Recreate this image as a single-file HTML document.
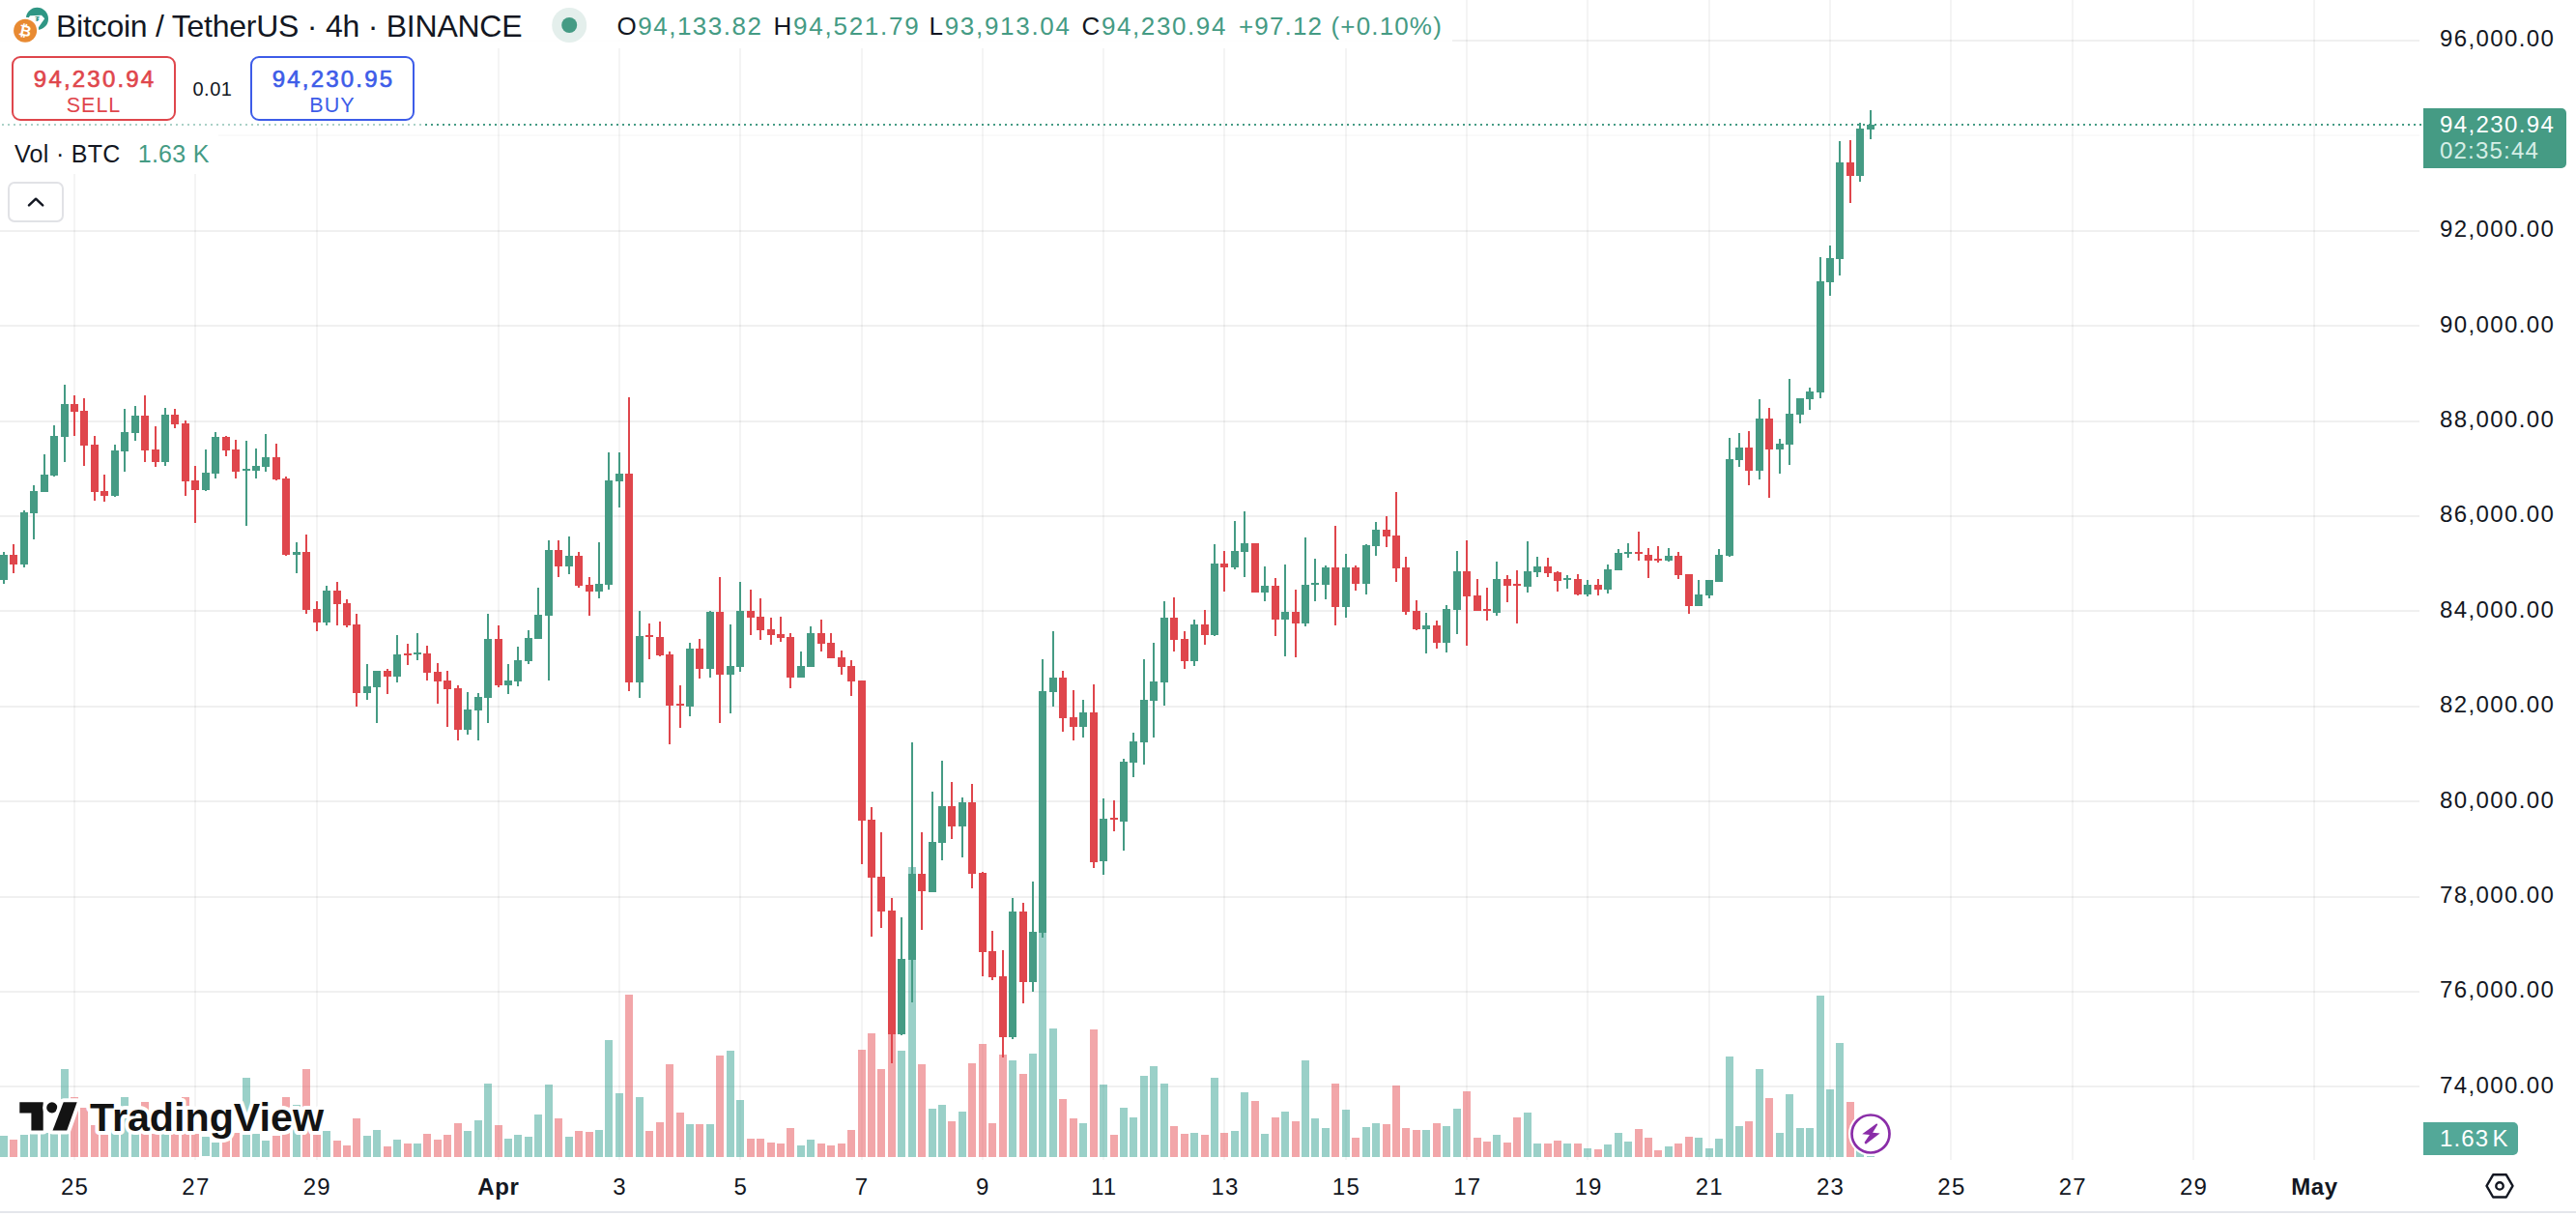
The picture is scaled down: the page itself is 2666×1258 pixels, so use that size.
<!DOCTYPE html>
<html><head><meta charset="utf-8"><title>BTCUSDT chart</title>
<style>
html,body{margin:0;padding:0;background:#fff;}
body{width:2666px;height:1258px;position:relative;overflow:hidden;font-family:"Liberation Sans", Arial, sans-serif;color:#131722;}
svg.chart,svg.ov{position:absolute;left:0;top:0;}
.bg{position:absolute;background:#fff;}
.t{position:absolute;white-space:nowrap;line-height:1;}
.pl{position:absolute;left:2525px;font-size:24px;line-height:28px;height:28px;letter-spacing:1.4px;white-space:nowrap;}
.tl{position:absolute;top:1213.7px;width:120px;text-align:center;font-size:24px;line-height:28px;white-space:nowrap;letter-spacing:1.2px;text-indent:1.2px;}
.tl.b{font-weight:700;letter-spacing:0.6px;text-indent:0.6px;}
.g{color:#459B84;}
.btn{position:absolute;top:58.3px;height:63px;width:165.3px;border:2px solid;border-radius:9px;box-sizing:content-box;text-align:center;}
.btn .p{position:absolute;left:0;right:0;top:9.5px;font-size:24px;font-weight:400;-webkit-text-stroke:0.65px;line-height:24px;letter-spacing:2.2px;text-indent:2.2px;}
.btn .s{position:absolute;left:0;right:0;top:37.8px;font-size:21.5px;line-height:22px;letter-spacing:1px;}
</style></head><body>
<svg class="chart" width="2666" height="1258" viewBox="0 0 2666 1258" shape-rendering="crispEdges"><rect x="0" y="40.8" width="2504" height="2" fill="rgba(0,0,0,0.06)"/><rect x="0" y="139.2" width="2504" height="2" fill="rgba(0,0,0,0.02)"/><rect x="0" y="237.6" width="2504" height="2" fill="rgba(0,0,0,0.06)"/><rect x="0" y="336.1" width="2504" height="2" fill="rgba(0,0,0,0.06)"/><rect x="0" y="434.5" width="2504" height="2" fill="rgba(0,0,0,0.06)"/><rect x="0" y="532.9" width="2504" height="2" fill="rgba(0,0,0,0.06)"/><rect x="0" y="631.3" width="2504" height="2" fill="rgba(0,0,0,0.06)"/><rect x="0" y="729.7" width="2504" height="2" fill="rgba(0,0,0,0.06)"/><rect x="0" y="828.2" width="2504" height="2" fill="rgba(0,0,0,0.06)"/><rect x="0" y="926.6" width="2504" height="2" fill="rgba(0,0,0,0.06)"/><rect x="0" y="1025" width="2504" height="2" fill="rgba(0,0,0,0.06)"/><rect x="0" y="1123.4" width="2504" height="2" fill="rgba(0,0,0,0.06)"/><rect x="76" y="0" width="2" height="1200" fill="rgba(0,0,0,0.045)"/><rect x="201" y="0" width="2" height="1200" fill="rgba(0,0,0,0.045)"/><rect x="327" y="0" width="2" height="1200" fill="rgba(0,0,0,0.045)"/><rect x="515" y="0" width="2" height="1200" fill="rgba(0,0,0,0.045)"/><rect x="640" y="0" width="2" height="1200" fill="rgba(0,0,0,0.045)"/><rect x="765" y="0" width="2" height="1200" fill="rgba(0,0,0,0.045)"/><rect x="891" y="0" width="2" height="1200" fill="rgba(0,0,0,0.045)"/><rect x="1016" y="0" width="2" height="1200" fill="rgba(0,0,0,0.045)"/><rect x="1141" y="0" width="2" height="1200" fill="rgba(0,0,0,0.045)"/><rect x="1266" y="0" width="2" height="1200" fill="rgba(0,0,0,0.045)"/><rect x="1392" y="0" width="2" height="1200" fill="rgba(0,0,0,0.045)"/><rect x="1517" y="0" width="2" height="1200" fill="rgba(0,0,0,0.045)"/><rect x="1642" y="0" width="2" height="1200" fill="rgba(0,0,0,0.045)"/><rect x="1768" y="0" width="2" height="1200" fill="rgba(0,0,0,0.045)"/><rect x="1893" y="0" width="2" height="1200" fill="rgba(0,0,0,0.045)"/><rect x="2018" y="0" width="2" height="1200" fill="rgba(0,0,0,0.045)"/><rect x="2144" y="0" width="2" height="1200" fill="rgba(0,0,0,0.045)"/><rect x="2269" y="0" width="2" height="1200" fill="rgba(0,0,0,0.045)"/><rect x="2394" y="0" width="2" height="1200" fill="rgba(0,0,0,0.045)"/><rect x="0" y="1175.1" width="8" height="21.4" fill="rgba(53,161,145,0.5)"/><rect x="10" y="1179" width="8" height="17.5" fill="rgba(229,77,83,0.5)"/><rect x="21" y="1174.1" width="8" height="22.4" fill="rgba(53,161,145,0.5)"/><rect x="31" y="1173" width="8" height="23.5" fill="rgba(53,161,145,0.5)"/><rect x="42" y="1172.1" width="8" height="24.4" fill="rgba(53,161,145,0.5)"/><rect x="52" y="1168" width="8" height="28.5" fill="rgba(53,161,145,0.5)"/><rect x="63" y="1106" width="8" height="90.5" fill="rgba(53,161,145,0.5)"/><rect x="73" y="1135.1" width="8" height="61.4" fill="rgba(229,77,83,0.5)"/><rect x="83" y="1145.8" width="8" height="50.7" fill="rgba(229,77,83,0.5)"/><rect x="94" y="1164.1" width="8" height="32.4" fill="rgba(229,77,83,0.5)"/><rect x="104" y="1174.1" width="8" height="22.4" fill="rgba(229,77,83,0.5)"/><rect x="115" y="1168" width="8" height="28.5" fill="rgba(53,161,145,0.5)"/><rect x="125" y="1135.1" width="8" height="61.4" fill="rgba(53,161,145,0.5)"/><rect x="136" y="1173" width="8" height="23.5" fill="rgba(53,161,145,0.5)"/><rect x="146" y="1140.1" width="8" height="56.4" fill="rgba(229,77,83,0.5)"/><rect x="157" y="1173" width="8" height="23.5" fill="rgba(229,77,83,0.5)"/><rect x="167" y="1173" width="8" height="23.5" fill="rgba(53,161,145,0.5)"/><rect x="177" y="1172.1" width="8" height="24.4" fill="rgba(229,77,83,0.5)"/><rect x="188" y="1135.1" width="8" height="61.4" fill="rgba(229,77,83,0.5)"/><rect x="198" y="1173" width="8" height="23.5" fill="rgba(229,77,83,0.5)"/><rect x="209" y="1176.2" width="8" height="20.2" fill="rgba(53,161,145,0.5)"/><rect x="219" y="1182" width="8" height="14.5" fill="rgba(53,161,145,0.5)"/><rect x="230" y="1180.4" width="8" height="16.1" fill="rgba(229,77,83,0.5)"/><rect x="240" y="1172.1" width="8" height="24.4" fill="rgba(229,77,83,0.5)"/><rect x="251" y="1115.4" width="8" height="81.1" fill="rgba(53,161,145,0.5)"/><rect x="261" y="1173" width="8" height="23.5" fill="rgba(53,161,145,0.5)"/><rect x="271" y="1180" width="8" height="16.5" fill="rgba(53,161,145,0.5)"/><rect x="282" y="1175.1" width="8" height="21.4" fill="rgba(229,77,83,0.5)"/><rect x="292" y="1135.1" width="8" height="61.4" fill="rgba(229,77,83,0.5)"/><rect x="303" y="1142.5" width="8" height="54" fill="rgba(53,161,145,0.5)"/><rect x="313" y="1106" width="8" height="90.5" fill="rgba(229,77,83,0.5)"/><rect x="324" y="1174.1" width="8" height="22.4" fill="rgba(229,77,83,0.5)"/><rect x="334" y="1170" width="8" height="26.5" fill="rgba(53,161,145,0.5)"/><rect x="345" y="1180" width="8" height="16.5" fill="rgba(229,77,83,0.5)"/><rect x="355" y="1184.5" width="8" height="12" fill="rgba(229,77,83,0.5)"/><rect x="365" y="1157" width="8" height="39.5" fill="rgba(229,77,83,0.5)"/><rect x="376" y="1175.1" width="8" height="21.4" fill="rgba(53,161,145,0.5)"/><rect x="386" y="1169" width="8" height="27.5" fill="rgba(53,161,145,0.5)"/><rect x="397" y="1186" width="8" height="10.5" fill="rgba(229,77,83,0.5)"/><rect x="407" y="1179.1" width="8" height="17.4" fill="rgba(53,161,145,0.5)"/><rect x="418" y="1183" width="8" height="13.5" fill="rgba(229,77,83,0.5)"/><rect x="428" y="1183" width="8" height="13.5" fill="rgba(53,161,145,0.5)"/><rect x="438" y="1173" width="8" height="23.5" fill="rgba(229,77,83,0.5)"/><rect x="449" y="1179.1" width="8" height="17.4" fill="rgba(229,77,83,0.5)"/><rect x="459" y="1174" width="8" height="22.5" fill="rgba(229,77,83,0.5)"/><rect x="470" y="1162.1" width="8" height="34.4" fill="rgba(229,77,83,0.5)"/><rect x="480" y="1170" width="8" height="26.5" fill="rgba(53,161,145,0.5)"/><rect x="491" y="1159" width="8" height="37.5" fill="rgba(53,161,145,0.5)"/><rect x="501" y="1121" width="8" height="75.5" fill="rgba(53,161,145,0.5)"/><rect x="512" y="1164.1" width="8" height="32.4" fill="rgba(229,77,83,0.5)"/><rect x="522" y="1178.1" width="8" height="18.4" fill="rgba(53,161,145,0.5)"/><rect x="532" y="1174" width="8" height="22.5" fill="rgba(53,161,145,0.5)"/><rect x="543" y="1176.1" width="8" height="20.4" fill="rgba(53,161,145,0.5)"/><rect x="553" y="1153.1" width="8" height="43.4" fill="rgba(53,161,145,0.5)"/><rect x="564" y="1122" width="8" height="74.5" fill="rgba(53,161,145,0.5)"/><rect x="574" y="1157" width="8" height="39.5" fill="rgba(229,77,83,0.5)"/><rect x="585" y="1176.1" width="8" height="20.4" fill="rgba(53,161,145,0.5)"/><rect x="595" y="1170" width="8" height="26.5" fill="rgba(229,77,83,0.5)"/><rect x="606" y="1171" width="8" height="25.5" fill="rgba(229,77,83,0.5)"/><rect x="616" y="1169" width="8" height="27.5" fill="rgba(53,161,145,0.5)"/><rect x="626" y="1076" width="8" height="120.5" fill="rgba(53,161,145,0.5)"/><rect x="637" y="1131.2" width="8" height="65.3" fill="rgba(53,161,145,0.5)"/><rect x="647" y="1028.9" width="8" height="167.6" fill="rgba(229,77,83,0.5)"/><rect x="658" y="1135.2" width="8" height="61.3" fill="rgba(53,161,145,0.5)"/><rect x="668" y="1170" width="8" height="26.5" fill="rgba(229,77,83,0.5)"/><rect x="679" y="1161" width="8" height="35.5" fill="rgba(229,77,83,0.5)"/><rect x="689" y="1101" width="8" height="95.5" fill="rgba(229,77,83,0.5)"/><rect x="700" y="1151.1" width="8" height="45.4" fill="rgba(229,77,83,0.5)"/><rect x="710" y="1163.1" width="8" height="33.4" fill="rgba(53,161,145,0.5)"/><rect x="720" y="1163.1" width="8" height="33.4" fill="rgba(229,77,83,0.5)"/><rect x="731" y="1163.1" width="8" height="33.4" fill="rgba(53,161,145,0.5)"/><rect x="741" y="1092.1" width="8" height="104.4" fill="rgba(229,77,83,0.5)"/><rect x="752" y="1087" width="8" height="109.5" fill="rgba(53,161,145,0.5)"/><rect x="762" y="1138.1" width="8" height="58.4" fill="rgba(53,161,145,0.5)"/><rect x="773" y="1178.1" width="8" height="18.4" fill="rgba(229,77,83,0.5)"/><rect x="783" y="1178.1" width="8" height="18.4" fill="rgba(229,77,83,0.5)"/><rect x="794" y="1182" width="8" height="14.5" fill="rgba(229,77,83,0.5)"/><rect x="804" y="1183" width="8" height="13.5" fill="rgba(229,77,83,0.5)"/><rect x="814" y="1167.1" width="8" height="29.4" fill="rgba(229,77,83,0.5)"/><rect x="825" y="1185.2" width="8" height="11.3" fill="rgba(53,161,145,0.5)"/><rect x="835" y="1179.1" width="8" height="17.4" fill="rgba(53,161,145,0.5)"/><rect x="846" y="1183" width="8" height="13.5" fill="rgba(229,77,83,0.5)"/><rect x="856" y="1185.2" width="8" height="11.3" fill="rgba(229,77,83,0.5)"/><rect x="867" y="1183" width="8" height="13.5" fill="rgba(229,77,83,0.5)"/><rect x="877" y="1169" width="8" height="27.5" fill="rgba(229,77,83,0.5)"/><rect x="888" y="1086" width="8" height="110.5" fill="rgba(229,77,83,0.5)"/><rect x="898" y="1069" width="8" height="127.5" fill="rgba(229,77,83,0.5)"/><rect x="908" y="1106.1" width="8" height="90.4" fill="rgba(229,77,83,0.5)"/><rect x="919" y="1050" width="8" height="146.5" fill="rgba(229,77,83,0.5)"/><rect x="929" y="1087" width="8" height="109.5" fill="rgba(53,161,145,0.5)"/><rect x="940" y="897" width="8" height="299.5" fill="rgba(53,161,145,0.5)"/><rect x="950" y="1101" width="8" height="95.5" fill="rgba(229,77,83,0.5)"/><rect x="961" y="1147" width="8" height="49.5" fill="rgba(53,161,145,0.5)"/><rect x="971" y="1143.1" width="8" height="53.4" fill="rgba(53,161,145,0.5)"/><rect x="981" y="1160" width="8" height="36.5" fill="rgba(229,77,83,0.5)"/><rect x="992" y="1150.1" width="8" height="46.4" fill="rgba(53,161,145,0.5)"/><rect x="1002" y="1100" width="8" height="96.5" fill="rgba(229,77,83,0.5)"/><rect x="1013" y="1080.1" width="8" height="116.4" fill="rgba(229,77,83,0.5)"/><rect x="1023" y="1162.1" width="8" height="34.4" fill="rgba(229,77,83,0.5)"/><rect x="1034" y="1091.1" width="8" height="105.4" fill="rgba(229,77,83,0.5)"/><rect x="1044" y="1097" width="8" height="99.5" fill="rgba(53,161,145,0.5)"/><rect x="1055" y="1111" width="8" height="85.5" fill="rgba(229,77,83,0.5)"/><rect x="1065" y="1090.1" width="8" height="106.4" fill="rgba(53,161,145,0.5)"/><rect x="1075" y="935" width="8" height="261.5" fill="rgba(53,161,145,0.5)"/><rect x="1086" y="1063.9" width="8" height="132.6" fill="rgba(53,161,145,0.5)"/><rect x="1096" y="1137.1" width="8" height="59.4" fill="rgba(229,77,83,0.5)"/><rect x="1107" y="1157" width="8" height="39.5" fill="rgba(229,77,83,0.5)"/><rect x="1117" y="1162.1" width="8" height="34.4" fill="rgba(53,161,145,0.5)"/><rect x="1128" y="1065.1" width="8" height="131.4" fill="rgba(229,77,83,0.5)"/><rect x="1138" y="1122" width="8" height="74.5" fill="rgba(53,161,145,0.5)"/><rect x="1149" y="1174" width="8" height="22.5" fill="rgba(229,77,83,0.5)"/><rect x="1159" y="1146" width="8" height="50.5" fill="rgba(53,161,145,0.5)"/><rect x="1169" y="1156.1" width="8" height="40.4" fill="rgba(53,161,145,0.5)"/><rect x="1180" y="1113.1" width="8" height="83.4" fill="rgba(53,161,145,0.5)"/><rect x="1190" y="1103.1" width="8" height="93.4" fill="rgba(53,161,145,0.5)"/><rect x="1201" y="1121" width="8" height="75.5" fill="rgba(53,161,145,0.5)"/><rect x="1211" y="1165.1" width="8" height="31.4" fill="rgba(229,77,83,0.5)"/><rect x="1222" y="1173" width="8" height="23.5" fill="rgba(229,77,83,0.5)"/><rect x="1232" y="1172" width="8" height="24.5" fill="rgba(53,161,145,0.5)"/><rect x="1243" y="1174" width="8" height="22.5" fill="rgba(229,77,83,0.5)"/><rect x="1253" y="1115.1" width="8" height="81.4" fill="rgba(53,161,145,0.5)"/><rect x="1263" y="1172" width="8" height="24.5" fill="rgba(229,77,83,0.5)"/><rect x="1274" y="1170" width="8" height="26.5" fill="rgba(53,161,145,0.5)"/><rect x="1284" y="1130.1" width="8" height="66.4" fill="rgba(53,161,145,0.5)"/><rect x="1295" y="1139.1" width="8" height="57.4" fill="rgba(229,77,83,0.5)"/><rect x="1305" y="1173" width="8" height="23.5" fill="rgba(53,161,145,0.5)"/><rect x="1316" y="1156.1" width="8" height="40.4" fill="rgba(229,77,83,0.5)"/><rect x="1326" y="1150.1" width="8" height="46.4" fill="rgba(53,161,145,0.5)"/><rect x="1337" y="1160" width="8" height="36.5" fill="rgba(229,77,83,0.5)"/><rect x="1347" y="1097" width="8" height="99.5" fill="rgba(53,161,145,0.5)"/><rect x="1357" y="1157" width="8" height="39.5" fill="rgba(53,161,145,0.5)"/><rect x="1368" y="1167.1" width="8" height="29.4" fill="rgba(53,161,145,0.5)"/><rect x="1378" y="1121" width="8" height="75.5" fill="rgba(229,77,83,0.5)"/><rect x="1389" y="1148.2" width="8" height="48.3" fill="rgba(53,161,145,0.5)"/><rect x="1399" y="1177.1" width="8" height="19.4" fill="rgba(229,77,83,0.5)"/><rect x="1410" y="1166.1" width="8" height="30.4" fill="rgba(53,161,145,0.5)"/><rect x="1420" y="1162.1" width="8" height="34.4" fill="rgba(53,161,145,0.5)"/><rect x="1431" y="1163.1" width="8" height="33.4" fill="rgba(229,77,83,0.5)"/><rect x="1441" y="1123" width="8" height="73.5" fill="rgba(229,77,83,0.5)"/><rect x="1451" y="1167.1" width="8" height="29.4" fill="rgba(229,77,83,0.5)"/><rect x="1462" y="1169" width="8" height="27.5" fill="rgba(229,77,83,0.5)"/><rect x="1472" y="1169" width="8" height="27.5" fill="rgba(53,161,145,0.5)"/><rect x="1483" y="1162.1" width="8" height="34.4" fill="rgba(229,77,83,0.5)"/><rect x="1493" y="1165.1" width="8" height="31.4" fill="rgba(53,161,145,0.5)"/><rect x="1504" y="1147" width="8" height="49.5" fill="rgba(53,161,145,0.5)"/><rect x="1514" y="1129.1" width="8" height="67.4" fill="rgba(229,77,83,0.5)"/><rect x="1525" y="1177.1" width="8" height="19.4" fill="rgba(229,77,83,0.5)"/><rect x="1535" y="1181.1" width="8" height="15.4" fill="rgba(229,77,83,0.5)"/><rect x="1545" y="1174" width="8" height="22.5" fill="rgba(53,161,145,0.5)"/><rect x="1556" y="1182" width="8" height="14.5" fill="rgba(229,77,83,0.5)"/><rect x="1566" y="1156.1" width="8" height="40.4" fill="rgba(229,77,83,0.5)"/><rect x="1577" y="1151.1" width="8" height="45.4" fill="rgba(53,161,145,0.5)"/><rect x="1587" y="1183" width="8" height="13.5" fill="rgba(53,161,145,0.5)"/><rect x="1598" y="1183" width="8" height="13.5" fill="rgba(229,77,83,0.5)"/><rect x="1608" y="1180.1" width="8" height="16.4" fill="rgba(229,77,83,0.5)"/><rect x="1618" y="1183" width="8" height="13.5" fill="rgba(53,161,145,0.5)"/><rect x="1629" y="1183" width="8" height="13.5" fill="rgba(229,77,83,0.5)"/><rect x="1639" y="1188" width="8" height="8.5" fill="rgba(53,161,145,0.5)"/><rect x="1650" y="1189.3" width="8" height="7.2" fill="rgba(229,77,83,0.5)"/><rect x="1660" y="1184" width="8" height="12.5" fill="rgba(53,161,145,0.5)"/><rect x="1671" y="1172" width="8" height="24.5" fill="rgba(53,161,145,0.5)"/><rect x="1681" y="1181.1" width="8" height="15.4" fill="rgba(53,161,145,0.5)"/><rect x="1692" y="1168.1" width="8" height="28.4" fill="rgba(229,77,83,0.5)"/><rect x="1702" y="1177.1" width="8" height="19.4" fill="rgba(229,77,83,0.5)"/><rect x="1712" y="1190.1" width="8" height="6.4" fill="rgba(229,77,83,0.5)"/><rect x="1723" y="1186" width="8" height="10.5" fill="rgba(53,161,145,0.5)"/><rect x="1733" y="1183" width="8" height="13.5" fill="rgba(229,77,83,0.5)"/><rect x="1744" y="1176.1" width="8" height="20.4" fill="rgba(229,77,83,0.5)"/><rect x="1754" y="1177.1" width="8" height="19.4" fill="rgba(53,161,145,0.5)"/><rect x="1765" y="1188" width="8" height="8.5" fill="rgba(53,161,145,0.5)"/><rect x="1775" y="1178.1" width="8" height="18.4" fill="rgba(53,161,145,0.5)"/><rect x="1786" y="1093.1" width="8" height="103.4" fill="rgba(53,161,145,0.5)"/><rect x="1796" y="1165.1" width="8" height="31.4" fill="rgba(53,161,145,0.5)"/><rect x="1806" y="1160" width="8" height="36.5" fill="rgba(229,77,83,0.5)"/><rect x="1817" y="1106.1" width="8" height="90.4" fill="rgba(53,161,145,0.5)"/><rect x="1827" y="1135.8" width="8" height="60.7" fill="rgba(229,77,83,0.5)"/><rect x="1838" y="1172" width="8" height="24.5" fill="rgba(53,161,145,0.5)"/><rect x="1848" y="1132" width="8" height="64.5" fill="rgba(53,161,145,0.5)"/><rect x="1859" y="1167.1" width="8" height="29.4" fill="rgba(53,161,145,0.5)"/><rect x="1869" y="1167.1" width="8" height="29.4" fill="rgba(53,161,145,0.5)"/><rect x="1880" y="1030.1" width="8" height="166.4" fill="rgba(53,161,145,0.5)"/><rect x="1890" y="1127.1" width="8" height="69.4" fill="rgba(53,161,145,0.5)"/><rect x="1900" y="1079.1" width="8" height="117.4" fill="rgba(53,161,145,0.5)"/><rect x="1911" y="1139.9" width="8" height="56.6" fill="rgba(229,77,83,0.5)"/><rect x="1921" y="1189.3" width="8" height="7.2" fill="rgba(53,161,145,0.5)"/><rect x="1932" y="1195.5" width="8" height="1" fill="rgba(53,161,145,0.5)"/><rect x="3" y="570.9" width="2" height="32.9" fill="#459B84"/><rect x="0" y="574" width="8" height="26" fill="#459B84"/><rect x="13" y="563" width="2" height="29.9" fill="#DF464C"/><rect x="10" y="574" width="8" height="9.9" fill="#DF464C"/><rect x="24" y="528.2" width="2" height="58.7" fill="#459B84"/><rect x="21" y="529.9" width="8" height="54" fill="#459B84"/><rect x="34" y="502.1" width="2" height="55.4" fill="#459B84"/><rect x="31" y="508.2" width="8" height="22.5" fill="#459B84"/><rect x="45" y="470" width="2" height="38.7" fill="#459B84"/><rect x="42" y="491.2" width="8" height="17.4" fill="#459B84"/><rect x="55" y="440.2" width="2" height="52.3" fill="#459B84"/><rect x="52" y="451.1" width="8" height="40.8" fill="#459B84"/><rect x="66" y="398" width="2" height="79.8" fill="#459B84"/><rect x="63" y="418" width="8" height="33.7" fill="#459B84"/><rect x="76" y="409" width="2" height="41.6" fill="#DF464C"/><rect x="73" y="418" width="8" height="7.6" fill="#DF464C"/><rect x="86" y="412.1" width="2" height="69.7" fill="#DF464C"/><rect x="83" y="425.1" width="8" height="35.4" fill="#DF464C"/><rect x="97" y="451.1" width="2" height="66.4" fill="#DF464C"/><rect x="94" y="460.1" width="8" height="48.5" fill="#DF464C"/><rect x="107" y="491.2" width="2" height="27.3" fill="#DF464C"/><rect x="104" y="508.2" width="8" height="4.6" fill="#DF464C"/><rect x="118" y="460.1" width="2" height="53.5" fill="#459B84"/><rect x="115" y="466.2" width="8" height="46.9" fill="#459B84"/><rect x="128" y="423" width="2" height="64.6" fill="#459B84"/><rect x="125" y="447" width="8" height="19.7" fill="#459B84"/><rect x="139" y="420" width="2" height="35.7" fill="#459B84"/><rect x="136" y="430" width="8" height="17.6" fill="#459B84"/><rect x="149" y="409" width="2" height="68.8" fill="#DF464C"/><rect x="146" y="430" width="8" height="35.5" fill="#DF464C"/><rect x="160" y="441.1" width="2" height="41.6" fill="#DF464C"/><rect x="157" y="465.1" width="8" height="12.7" fill="#DF464C"/><rect x="170" y="422" width="2" height="59.7" fill="#459B84"/><rect x="167" y="429" width="8" height="48.7" fill="#459B84"/><rect x="180" y="423" width="2" height="19.6" fill="#DF464C"/><rect x="177" y="429" width="8" height="9.5" fill="#DF464C"/><rect x="191" y="435" width="2" height="77.6" fill="#DF464C"/><rect x="188" y="438.1" width="8" height="59.5" fill="#DF464C"/><rect x="201" y="482" width="2" height="58.7" fill="#DF464C"/><rect x="198" y="497.1" width="8" height="9.5" fill="#DF464C"/><rect x="212" y="465.1" width="2" height="42.4" fill="#459B84"/><rect x="209" y="489.1" width="8" height="18.1" fill="#459B84"/><rect x="222" y="447" width="2" height="47.7" fill="#459B84"/><rect x="219" y="452.1" width="8" height="37.7" fill="#459B84"/><rect x="233" y="451.1" width="2" height="20.6" fill="#DF464C"/><rect x="230" y="452.1" width="8" height="13.5" fill="#DF464C"/><rect x="243" y="455" width="2" height="39.6" fill="#DF464C"/><rect x="240" y="465.1" width="8" height="22.7" fill="#DF464C"/><rect x="254" y="456" width="2" height="87.7" fill="#459B84"/><rect x="251" y="485.1" width="8" height="2" fill="#459B84"/><rect x="264" y="464.1" width="2" height="30.6" fill="#459B84"/><rect x="261" y="482.3" width="8" height="4.4" fill="#459B84"/><rect x="274" y="449.1" width="2" height="38.5" fill="#459B84"/><rect x="271" y="473.1" width="8" height="9.7" fill="#459B84"/><rect x="285" y="459" width="2" height="37.7" fill="#DF464C"/><rect x="282" y="473.1" width="8" height="22.9" fill="#DF464C"/><rect x="295" y="493" width="2" height="81.5" fill="#DF464C"/><rect x="292" y="495.2" width="8" height="78.9" fill="#DF464C"/><rect x="306" y="561.1" width="2" height="31.9" fill="#459B84"/><rect x="303" y="570.9" width="8" height="3.1" fill="#459B84"/><rect x="316" y="553.2" width="2" height="81.7" fill="#DF464C"/><rect x="313" y="570.9" width="8" height="59.9" fill="#DF464C"/><rect x="327" y="622.1" width="2" height="30.8" fill="#DF464C"/><rect x="324" y="630.1" width="8" height="13.7" fill="#DF464C"/><rect x="337" y="606" width="2" height="40.8" fill="#459B84"/><rect x="334" y="611.1" width="8" height="32.7" fill="#459B84"/><rect x="348" y="602" width="2" height="44.7" fill="#DF464C"/><rect x="345" y="611.1" width="8" height="13.7" fill="#DF464C"/><rect x="358" y="620.1" width="2" height="28.5" fill="#DF464C"/><rect x="355" y="624" width="8" height="22.7" fill="#DF464C"/><rect x="368" y="635.1" width="2" height="95.7" fill="#DF464C"/><rect x="365" y="646.1" width="8" height="70.7" fill="#DF464C"/><rect x="379" y="687" width="2" height="36.8" fill="#459B84"/><rect x="376" y="710.2" width="8" height="6.6" fill="#459B84"/><rect x="389" y="694.1" width="2" height="53.7" fill="#459B84"/><rect x="386" y="694.1" width="8" height="16.6" fill="#459B84"/><rect x="400" y="692.1" width="2" height="25.5" fill="#DF464C"/><rect x="397" y="694.1" width="8" height="5.6" fill="#DF464C"/><rect x="410" y="657.1" width="2" height="48.7" fill="#459B84"/><rect x="407" y="677" width="8" height="22.7" fill="#459B84"/><rect x="421" y="666" width="2" height="21.7" fill="#DF464C"/><rect x="418" y="676.2" width="8" height="2" fill="#DF464C"/><rect x="431" y="655" width="2" height="27.8" fill="#459B84"/><rect x="428" y="674.9" width="8" height="2" fill="#459B84"/><rect x="441" y="668.2" width="2" height="35.5" fill="#DF464C"/><rect x="438" y="676.2" width="8" height="19.4" fill="#DF464C"/><rect x="452" y="686.1" width="2" height="41.6" fill="#DF464C"/><rect x="449" y="695.1" width="8" height="9.5" fill="#DF464C"/><rect x="462" y="694" width="2" height="57.9" fill="#DF464C"/><rect x="459" y="704.2" width="8" height="8.4" fill="#DF464C"/><rect x="473" y="709.1" width="2" height="56.7" fill="#DF464C"/><rect x="470" y="712.1" width="8" height="42.6" fill="#DF464C"/><rect x="483" y="716" width="2" height="43.8" fill="#459B84"/><rect x="480" y="734.1" width="8" height="20.6" fill="#459B84"/><rect x="494" y="717" width="2" height="48.8" fill="#459B84"/><rect x="491" y="721.1" width="8" height="13.5" fill="#459B84"/><rect x="504" y="635.1" width="2" height="112.7" fill="#459B84"/><rect x="501" y="661.1" width="8" height="60.5" fill="#459B84"/><rect x="515" y="647.1" width="2" height="64" fill="#DF464C"/><rect x="512" y="661.1" width="8" height="48" fill="#DF464C"/><rect x="525" y="687.1" width="2" height="30.8" fill="#459B84"/><rect x="522" y="704.2" width="8" height="4.9" fill="#459B84"/><rect x="535" y="669" width="2" height="41" fill="#459B84"/><rect x="532" y="683.1" width="8" height="21.9" fill="#459B84"/><rect x="546" y="652" width="2" height="34.9" fill="#459B84"/><rect x="543" y="660.1" width="8" height="24" fill="#459B84"/><rect x="556" y="608" width="2" height="52.8" fill="#459B84"/><rect x="553" y="636.1" width="8" height="24.7" fill="#459B84"/><rect x="567" y="559" width="2" height="144.6" fill="#459B84"/><rect x="564" y="569.1" width="8" height="67.7" fill="#459B84"/><rect x="577" y="559" width="2" height="37.7" fill="#DF464C"/><rect x="574" y="569.1" width="8" height="16.7" fill="#DF464C"/><rect x="588" y="555.1" width="2" height="38.9" fill="#459B84"/><rect x="585" y="575.2" width="8" height="10.6" fill="#459B84"/><rect x="598" y="571.1" width="2" height="36.9" fill="#DF464C"/><rect x="595" y="575.2" width="8" height="30.8" fill="#DF464C"/><rect x="609" y="596.9" width="2" height="40.1" fill="#DF464C"/><rect x="606" y="605" width="8" height="6.9" fill="#DF464C"/><rect x="619" y="561.2" width="2" height="57.8" fill="#459B84"/><rect x="616" y="604" width="8" height="7.9" fill="#459B84"/><rect x="629" y="468.1" width="2" height="141.8" fill="#459B84"/><rect x="626" y="497" width="8" height="108" fill="#459B84"/><rect x="640" y="468.1" width="2" height="56.9" fill="#459B84"/><rect x="637" y="490.1" width="8" height="7.7" fill="#459B84"/><rect x="650" y="411" width="2" height="303.8" fill="#DF464C"/><rect x="647" y="490.1" width="8" height="215.7" fill="#DF464C"/><rect x="661" y="632" width="2" height="89.8" fill="#459B84"/><rect x="658" y="658.1" width="8" height="47.7" fill="#459B84"/><rect x="671" y="645.1" width="2" height="36.5" fill="#DF464C"/><rect x="668" y="657" width="8" height="2" fill="#DF464C"/><rect x="682" y="643" width="2" height="35.9" fill="#DF464C"/><rect x="679" y="659.1" width="8" height="19.1" fill="#DF464C"/><rect x="692" y="674.1" width="2" height="95.9" fill="#DF464C"/><rect x="689" y="677" width="8" height="52.6" fill="#DF464C"/><rect x="703" y="709.1" width="2" height="43.6" fill="#DF464C"/><rect x="700" y="728" width="8" height="2" fill="#DF464C"/><rect x="713" y="665" width="2" height="75.7" fill="#459B84"/><rect x="710" y="671" width="8" height="59.7" fill="#459B84"/><rect x="723" y="661.1" width="2" height="40.6" fill="#DF464C"/><rect x="720" y="671" width="8" height="20.9" fill="#DF464C"/><rect x="734" y="632" width="2" height="68.9" fill="#459B84"/><rect x="731" y="633" width="8" height="58.9" fill="#459B84"/><rect x="744" y="596.9" width="2" height="150.8" fill="#DF464C"/><rect x="741" y="633" width="8" height="64.8" fill="#DF464C"/><rect x="755" y="646" width="2" height="91.9" fill="#459B84"/><rect x="752" y="689" width="8" height="8.7" fill="#459B84"/><rect x="765" y="602" width="2" height="92.8" fill="#459B84"/><rect x="762" y="632" width="8" height="57.7" fill="#459B84"/><rect x="776" y="610.1" width="2" height="46.5" fill="#DF464C"/><rect x="773" y="632" width="8" height="6.6" fill="#DF464C"/><rect x="786" y="619" width="2" height="42.8" fill="#DF464C"/><rect x="783" y="638.1" width="8" height="13.7" fill="#DF464C"/><rect x="797" y="639" width="2" height="27.6" fill="#DF464C"/><rect x="794" y="651.1" width="8" height="5.6" fill="#DF464C"/><rect x="807" y="638.1" width="2" height="25.7" fill="#DF464C"/><rect x="804" y="656.2" width="8" height="3.6" fill="#DF464C"/><rect x="817" y="655" width="2" height="56.6" fill="#DF464C"/><rect x="814" y="659.1" width="8" height="41.8" fill="#DF464C"/><rect x="828" y="674.1" width="2" height="26.8" fill="#459B84"/><rect x="825" y="689" width="8" height="11.8" fill="#459B84"/><rect x="838" y="648.1" width="2" height="41.6" fill="#459B84"/><rect x="835" y="655" width="8" height="34.7" fill="#459B84"/><rect x="849" y="641" width="2" height="32.7" fill="#DF464C"/><rect x="846" y="655" width="8" height="10.7" fill="#DF464C"/><rect x="859" y="655" width="2" height="25.7" fill="#DF464C"/><rect x="856" y="665" width="8" height="15.6" fill="#DF464C"/><rect x="870" y="673.1" width="2" height="24.7" fill="#DF464C"/><rect x="867" y="680" width="8" height="9.7" fill="#DF464C"/><rect x="880" y="683.1" width="2" height="36.7" fill="#DF464C"/><rect x="877" y="689" width="8" height="15.6" fill="#DF464C"/><rect x="891" y="704.2" width="2" height="189.9" fill="#DF464C"/><rect x="888" y="704.2" width="8" height="144.8" fill="#DF464C"/><rect x="901" y="835" width="2" height="133.9" fill="#DF464C"/><rect x="898" y="848" width="8" height="60" fill="#DF464C"/><rect x="911" y="861" width="2" height="99.1" fill="#DF464C"/><rect x="908" y="907" width="8" height="35.9" fill="#DF464C"/><rect x="922" y="929.1" width="2" height="171" fill="#DF464C"/><rect x="919" y="941.9" width="8" height="128" fill="#DF464C"/><rect x="932" y="949" width="2" height="122" fill="#459B84"/><rect x="929" y="992" width="8" height="78" fill="#459B84"/><rect x="943" y="768.1" width="2" height="269" fill="#459B84"/><rect x="940" y="904.1" width="8" height="88.9" fill="#459B84"/><rect x="953" y="861" width="2" height="101.1" fill="#DF464C"/><rect x="950" y="904.1" width="8" height="17.9" fill="#DF464C"/><rect x="964" y="819" width="2" height="103.5" fill="#459B84"/><rect x="961" y="871" width="8" height="51.5" fill="#459B84"/><rect x="974" y="787" width="2" height="103" fill="#459B84"/><rect x="971" y="834" width="8" height="38" fill="#459B84"/><rect x="984" y="809" width="2" height="59" fill="#DF464C"/><rect x="981" y="834" width="8" height="21.1" fill="#DF464C"/><rect x="995" y="825" width="2" height="62.2" fill="#459B84"/><rect x="992" y="830.1" width="8" height="25" fill="#459B84"/><rect x="1005" y="811" width="2" height="108.1" fill="#DF464C"/><rect x="1002" y="830.1" width="8" height="74" fill="#DF464C"/><rect x="1016" y="902.1" width="2" height="108" fill="#DF464C"/><rect x="1013" y="903.1" width="8" height="81.5" fill="#DF464C"/><rect x="1026" y="963" width="2" height="51" fill="#DF464C"/><rect x="1023" y="983.9" width="8" height="27.1" fill="#DF464C"/><rect x="1037" y="983.1" width="2" height="111" fill="#DF464C"/><rect x="1034" y="1010.1" width="8" height="62.5" fill="#DF464C"/><rect x="1047" y="929.1" width="2" height="145.8" fill="#459B84"/><rect x="1044" y="942.9" width="8" height="130.3" fill="#459B84"/><rect x="1058" y="934" width="2" height="104" fill="#DF464C"/><rect x="1055" y="942.9" width="8" height="73.1" fill="#DF464C"/><rect x="1068" y="912.1" width="2" height="113.9" fill="#459B84"/><rect x="1065" y="964" width="8" height="52" fill="#459B84"/><rect x="1078" y="682" width="2" height="288" fill="#459B84"/><rect x="1075" y="715.2" width="8" height="249.8" fill="#459B84"/><rect x="1089" y="653" width="2" height="77.6" fill="#459B84"/><rect x="1086" y="701.2" width="8" height="14.8" fill="#459B84"/><rect x="1099" y="694" width="2" height="62.8" fill="#DF464C"/><rect x="1096" y="701.2" width="8" height="41.6" fill="#DF464C"/><rect x="1110" y="714" width="2" height="51.8" fill="#DF464C"/><rect x="1107" y="742" width="8" height="9.9" fill="#DF464C"/><rect x="1120" y="724.1" width="2" height="38.8" fill="#459B84"/><rect x="1117" y="737.1" width="8" height="14.8" fill="#459B84"/><rect x="1131" y="708.1" width="2" height="190" fill="#DF464C"/><rect x="1128" y="737.1" width="8" height="155" fill="#DF464C"/><rect x="1141" y="826" width="2" height="78.8" fill="#459B84"/><rect x="1138" y="847" width="8" height="44.1" fill="#459B84"/><rect x="1152" y="828.1" width="2" height="31.9" fill="#DF464C"/><rect x="1149" y="846" width="8" height="2" fill="#DF464C"/><rect x="1162" y="785" width="2" height="95.1" fill="#459B84"/><rect x="1159" y="788" width="8" height="62" fill="#459B84"/><rect x="1172" y="758" width="2" height="46" fill="#459B84"/><rect x="1169" y="767" width="8" height="21.9" fill="#459B84"/><rect x="1183" y="682" width="2" height="108.9" fill="#459B84"/><rect x="1180" y="724.1" width="8" height="43.4" fill="#459B84"/><rect x="1193" y="665" width="2" height="97.9" fill="#459B84"/><rect x="1190" y="705.2" width="8" height="19.6" fill="#459B84"/><rect x="1204" y="622.1" width="2" height="107.9" fill="#459B84"/><rect x="1201" y="639" width="8" height="66.8" fill="#459B84"/><rect x="1214" y="618" width="2" height="55.8" fill="#DF464C"/><rect x="1211" y="639" width="8" height="22.7" fill="#DF464C"/><rect x="1225" y="653" width="2" height="39" fill="#DF464C"/><rect x="1222" y="661.1" width="8" height="23" fill="#DF464C"/><rect x="1235" y="641" width="2" height="48" fill="#459B84"/><rect x="1232" y="646.1" width="8" height="38" fill="#459B84"/><rect x="1246" y="631.1" width="2" height="35.7" fill="#DF464C"/><rect x="1243" y="646.1" width="8" height="10.9" fill="#DF464C"/><rect x="1256" y="563" width="2" height="94.7" fill="#459B84"/><rect x="1253" y="583.1" width="8" height="74.3" fill="#459B84"/><rect x="1266" y="570.1" width="2" height="41.9" fill="#DF464C"/><rect x="1263" y="583.1" width="8" height="3.9" fill="#DF464C"/><rect x="1277" y="539" width="2" height="50" fill="#459B84"/><rect x="1274" y="570.1" width="8" height="16.9" fill="#459B84"/><rect x="1287" y="529" width="2" height="67.9" fill="#459B84"/><rect x="1284" y="562" width="8" height="8.9" fill="#459B84"/><rect x="1298" y="562" width="2" height="50.8" fill="#DF464C"/><rect x="1295" y="562" width="8" height="50.8" fill="#DF464C"/><rect x="1308" y="586.1" width="2" height="36" fill="#459B84"/><rect x="1305" y="606.1" width="8" height="6.7" fill="#459B84"/><rect x="1319" y="598.1" width="2" height="59.7" fill="#DF464C"/><rect x="1316" y="606.1" width="8" height="34.9" fill="#DF464C"/><rect x="1329" y="584.1" width="2" height="94.7" fill="#459B84"/><rect x="1326" y="633.1" width="8" height="7.9" fill="#459B84"/><rect x="1340" y="610.1" width="2" height="69.9" fill="#DF464C"/><rect x="1337" y="633.1" width="8" height="11.8" fill="#DF464C"/><rect x="1350" y="556" width="2" height="91.9" fill="#459B84"/><rect x="1347" y="605.1" width="8" height="39.8" fill="#459B84"/><rect x="1360" y="578" width="2" height="44.1" fill="#459B84"/><rect x="1357" y="602.8" width="8" height="2" fill="#459B84"/><rect x="1371" y="585.1" width="2" height="34.9" fill="#459B84"/><rect x="1368" y="587" width="8" height="18.1" fill="#459B84"/><rect x="1381" y="543.9" width="2" height="103.1" fill="#DF464C"/><rect x="1378" y="587" width="8" height="41.1" fill="#DF464C"/><rect x="1392" y="573.1" width="2" height="66" fill="#459B84"/><rect x="1389" y="587" width="8" height="41.1" fill="#459B84"/><rect x="1402" y="585.1" width="2" height="26" fill="#DF464C"/><rect x="1399" y="587" width="8" height="16.9" fill="#DF464C"/><rect x="1413" y="563" width="2" height="52" fill="#459B84"/><rect x="1410" y="564" width="8" height="40" fill="#459B84"/><rect x="1423" y="540" width="2" height="35" fill="#459B84"/><rect x="1420" y="548.1" width="8" height="16.9" fill="#459B84"/><rect x="1434" y="533.9" width="2" height="32.1" fill="#DF464C"/><rect x="1431" y="548.1" width="8" height="6.9" fill="#DF464C"/><rect x="1444" y="508.9" width="2" height="93.1" fill="#DF464C"/><rect x="1441" y="554" width="8" height="34" fill="#DF464C"/><rect x="1454" y="576" width="2" height="60" fill="#DF464C"/><rect x="1451" y="587" width="8" height="46.1" fill="#DF464C"/><rect x="1465" y="621.1" width="2" height="30.9" fill="#DF464C"/><rect x="1462" y="632.1" width="8" height="19.1" fill="#DF464C"/><rect x="1475" y="634.1" width="2" height="41.8" fill="#459B84"/><rect x="1472" y="647.1" width="8" height="4.1" fill="#459B84"/><rect x="1486" y="642.1" width="2" height="28.8" fill="#DF464C"/><rect x="1483" y="647.1" width="8" height="18.1" fill="#DF464C"/><rect x="1496" y="626" width="2" height="49" fill="#459B84"/><rect x="1493" y="630.1" width="8" height="35" fill="#459B84"/><rect x="1507" y="570.1" width="2" height="86" fill="#459B84"/><rect x="1504" y="591" width="8" height="40.1" fill="#459B84"/><rect x="1517" y="559.1" width="2" height="108.9" fill="#DF464C"/><rect x="1514" y="591" width="8" height="26.2" fill="#DF464C"/><rect x="1528" y="599" width="2" height="33.1" fill="#DF464C"/><rect x="1525" y="616.2" width="8" height="16" fill="#DF464C"/><rect x="1538" y="608.1" width="2" height="34" fill="#DF464C"/><rect x="1535" y="630.1" width="8" height="2" fill="#DF464C"/><rect x="1548" y="581" width="2" height="56.1" fill="#459B84"/><rect x="1545" y="599" width="8" height="35" fill="#459B84"/><rect x="1559" y="595.1" width="2" height="28" fill="#DF464C"/><rect x="1556" y="599" width="8" height="7.1" fill="#DF464C"/><rect x="1569" y="590" width="2" height="54.9" fill="#DF464C"/><rect x="1566" y="604" width="8" height="2" fill="#DF464C"/><rect x="1580" y="560.1" width="2" height="53" fill="#459B84"/><rect x="1577" y="591" width="8" height="16.1" fill="#459B84"/><rect x="1590" y="576" width="2" height="20.9" fill="#459B84"/><rect x="1587" y="586.1" width="8" height="5.9" fill="#459B84"/><rect x="1601" y="577" width="2" height="19.9" fill="#DF464C"/><rect x="1598" y="586.1" width="8" height="7.1" fill="#DF464C"/><rect x="1611" y="591" width="2" height="21.1" fill="#DF464C"/><rect x="1608" y="592" width="8" height="9" fill="#DF464C"/><rect x="1621" y="595.1" width="2" height="14" fill="#459B84"/><rect x="1618" y="597.9" width="8" height="2" fill="#459B84"/><rect x="1632" y="594" width="2" height="22" fill="#DF464C"/><rect x="1629" y="599.1" width="8" height="16.1" fill="#DF464C"/><rect x="1642" y="600.1" width="2" height="16.9" fill="#459B84"/><rect x="1639" y="605.2" width="8" height="10" fill="#459B84"/><rect x="1653" y="599.1" width="2" height="16.9" fill="#DF464C"/><rect x="1650" y="605.2" width="8" height="4.8" fill="#DF464C"/><rect x="1663" y="583.9" width="2" height="30.1" fill="#459B84"/><rect x="1660" y="589" width="8" height="20.9" fill="#459B84"/><rect x="1674" y="568" width="2" height="22" fill="#459B84"/><rect x="1671" y="572.1" width="8" height="17.9" fill="#459B84"/><rect x="1684" y="562.1" width="2" height="15" fill="#459B84"/><rect x="1681" y="571" width="8" height="2" fill="#459B84"/><rect x="1695" y="550.1" width="2" height="29.9" fill="#DF464C"/><rect x="1692" y="571" width="8" height="2" fill="#DF464C"/><rect x="1705" y="567" width="2" height="31.1" fill="#DF464C"/><rect x="1702" y="574.1" width="8" height="5.9" fill="#DF464C"/><rect x="1715" y="565" width="2" height="16.9" fill="#DF464C"/><rect x="1712" y="578.2" width="8" height="2" fill="#DF464C"/><rect x="1726" y="567" width="2" height="14" fill="#459B84"/><rect x="1723" y="575.1" width="8" height="4.9" fill="#459B84"/><rect x="1736" y="571" width="2" height="28.1" fill="#DF464C"/><rect x="1733" y="575.1" width="8" height="20.1" fill="#DF464C"/><rect x="1747" y="594" width="2" height="41" fill="#DF464C"/><rect x="1744" y="594" width="8" height="33.1" fill="#DF464C"/><rect x="1757" y="600.1" width="2" height="27" fill="#459B84"/><rect x="1754" y="615.2" width="8" height="11.8" fill="#459B84"/><rect x="1768" y="600.1" width="2" height="18.9" fill="#459B84"/><rect x="1765" y="600.1" width="8" height="16" fill="#459B84"/><rect x="1778" y="568" width="2" height="34" fill="#459B84"/><rect x="1775" y="574.1" width="8" height="27.6" fill="#459B84"/><rect x="1789" y="453" width="2" height="123.1" fill="#459B84"/><rect x="1786" y="475" width="8" height="100" fill="#459B84"/><rect x="1799" y="448.1" width="2" height="34.7" fill="#459B84"/><rect x="1796" y="463" width="8" height="12.8" fill="#459B84"/><rect x="1809" y="446.1" width="2" height="56" fill="#DF464C"/><rect x="1806" y="463" width="8" height="23.9" fill="#DF464C"/><rect x="1820" y="413" width="2" height="82.9" fill="#459B84"/><rect x="1817" y="433.1" width="8" height="53.8" fill="#459B84"/><rect x="1830" y="422.1" width="2" height="93" fill="#DF464C"/><rect x="1827" y="433.1" width="8" height="31.6" fill="#DF464C"/><rect x="1841" y="454" width="2" height="35.9" fill="#459B84"/><rect x="1838" y="459.1" width="8" height="5.6" fill="#459B84"/><rect x="1851" y="392" width="2" height="88.8" fill="#459B84"/><rect x="1848" y="428.2" width="8" height="31.9" fill="#459B84"/><rect x="1862" y="412" width="2" height="26" fill="#459B84"/><rect x="1859" y="412" width="8" height="16.9" fill="#459B84"/><rect x="1872" y="401" width="2" height="23" fill="#459B84"/><rect x="1869" y="405.1" width="8" height="7.9" fill="#459B84"/><rect x="1883" y="266.1" width="2" height="145.9" fill="#459B84"/><rect x="1880" y="290.8" width="8" height="115.3" fill="#459B84"/><rect x="1893" y="254.1" width="2" height="51.8" fill="#459B84"/><rect x="1890" y="267.1" width="8" height="24.9" fill="#459B84"/><rect x="1903" y="146.1" width="2" height="138.8" fill="#459B84"/><rect x="1900" y="168.1" width="8" height="99.7" fill="#459B84"/><rect x="1914" y="144.9" width="2" height="65.1" fill="#DF464C"/><rect x="1911" y="168.1" width="8" height="13.7" fill="#DF464C"/><rect x="1924" y="127" width="2" height="61" fill="#459B84"/><rect x="1921" y="132.9" width="8" height="48.8" fill="#459B84"/><rect x="1935" y="114" width="2" height="29.9" fill="#459B84"/><rect x="1932" y="128.9" width="8" height="5.1" fill="#459B84"/></svg>
<div class="bg" style="left:0;top:0;width:1503px;height:50px;background:rgba(255,255,255,0.92)"></div>
<div class="bg" style="left:0;top:50px;width:436px;height:82px;background:linear-gradient(#fff,#fff)"></div>
<div class="bg" style="left:0;top:132px;width:226px;height:48px"></div>
<div class="t" style="left:58px;top:9px;font-size:32px;line-height:36px;letter-spacing:-0.24px">Bitcoin / TetherUS · 4h · BINANCE</div>
<div class="t" style="left:638.5px;top:13px;font-size:26px;line-height:28px;letter-spacing:1.5px">O<span class="g">94,133.82</span></div>
<div class="t" style="left:800.5px;top:13px;font-size:26px;line-height:28px;letter-spacing:1.75px">H<span class="g">94,521.79</span></div>
<div class="t" style="left:961.5px;top:13px;font-size:26px;line-height:28px;letter-spacing:1.7px">L<span class="g">93,913.04</span></div>
<div class="t" style="left:1119.5px;top:13px;font-size:26px;line-height:28px;letter-spacing:1.6px">C<span class="g">94,230.94</span></div>
<div class="t g" style="left:1282px;top:13px;font-size:26px;line-height:28px;letter-spacing:1.15px">+97.12 (+0.10%)</div>
<div class="btn" style="left:12.4px;border-color:#DF464C;color:#DF464C"><div class="p">94,230.94</div><div class="s">SELL</div></div>
<div class="btn" style="left:259.3px;border-color:#3D5CE8;color:#3D5CE8"><div class="p">94,230.95</div><div class="s">BUY</div></div>
<div class="t" style="left:199.5px;top:81.2px;font-size:20px;line-height:22px;letter-spacing:0.5px">0.01</div>
<div class="t" style="left:15px;top:145px;font-size:25px;line-height:28px;letter-spacing:0.3px">Vol · BTC<span class="g" style="margin-left:18px">1.63 K</span></div>
<div style="position:absolute;left:8.4px;top:188.4px;width:53.4px;height:37.4px;border:2px solid #E1E2E6;border-radius:7px;background:#fff;box-sizing:content-box"></div>
<div class="bg" style="left:2504px;top:0;width:162px;height:1200px"></div>
<div class="pl" style="top:26.2px">96,000.00</div><div class="pl" style="top:223px">92,000.00</div><div class="pl" style="top:321.5px">90,000.00</div><div class="pl" style="top:419.9px">88,000.00</div><div class="pl" style="top:518.3px">86,000.00</div><div class="pl" style="top:616.7px">84,000.00</div><div class="pl" style="top:715.1px">82,000.00</div><div class="pl" style="top:813.6px">80,000.00</div><div class="pl" style="top:912px">78,000.00</div><div class="pl" style="top:1010.4px">76,000.00</div><div class="pl" style="top:1108.8px">74,000.00</div>
<div style="position:absolute;left:2508px;top:112px;width:148px;height:61.5px;background:#459B84;border-radius:0 5px 5px 0"></div>
<div class="t" style="left:2525px;top:114.5px;font-size:24px;line-height:28px;letter-spacing:1.4px;color:#fff">94,230.94</div>
<div class="t" style="left:2525px;top:141.5px;font-size:24px;line-height:28px;letter-spacing:1.2px;color:#D5EEE6">02:35:44</div>
<div style="position:absolute;left:2508px;top:1161px;width:98px;height:33.5px;background:#53A898;border-radius:0 5px 5px 0"></div>
<div class="t" style="left:2525px;top:1164px;font-size:24px;line-height:28px;letter-spacing:1.1px;word-spacing:-4.5px;color:#fff">1.63 K</div>
<div class="bg" style="left:0;top:1200px;width:2666px;height:58px"></div>
<div class="tl" style="left:17px">25</div><div class="tl" style="left:142.3px">27</div><div class="tl" style="left:267.6px">29</div><div class="tl b" style="left:455.6px">Apr</div><div class="tl" style="left:580.9px">3</div><div class="tl" style="left:706.2px">5</div><div class="tl" style="left:831.5px">7</div><div class="tl" style="left:956.8px">9</div><div class="tl" style="left:1082.1px">11</div><div class="tl" style="left:1207.4px">13</div><div class="tl" style="left:1332.8px">15</div><div class="tl" style="left:1458.1px">17</div><div class="tl" style="left:1583.4px">19</div><div class="tl" style="left:1708.7px">21</div><div class="tl" style="left:1834px">23</div><div class="tl" style="left:1959.3px">25</div><div class="tl" style="left:2084.6px">27</div><div class="tl" style="left:2209.9px">29</div><div class="tl b" style="left:2335.2px">May</div>
<svg class="ov" width="2666" height="1258" viewBox="0 0 2666 1258"><line x1="2" y1="129" x2="438" y2="129" stroke="#459B84" stroke-width="2" stroke-dasharray="2 4" shape-rendering="crispEdges" opacity="0.45"/><line x1="440" y1="129" x2="2508" y2="129" stroke="#459B84" stroke-width="2" stroke-dasharray="2 4" shape-rendering="crispEdges"/><circle cx="1936" cy="1173" r="23" fill="#fff"/><circle cx="1936" cy="1173" r="19.5" fill="#fff" stroke="#8A2DA8" stroke-width="2.7"/><path d="M1942.3 1162.3 L1927.2 1173.2 L1934.9 1173.9 L1929.5 1182 L1930.9 1183.8 L1945.6 1172.4 L1938.1 1171.8 L1943.2 1163.6 Z" fill="#8A2DA8"/><g stroke="#fff" stroke-width="8" stroke-linejoin="round" paint-order="stroke" fill="#131313"><path d="M20.3 1140.3 H44.7 V1169.6 H32.4 V1151.4 H20.3 Z"/><circle cx="53.8" cy="1145.9" r="5.6"/><path d="M65.7 1140.3 H79.7 L69.2 1169.6 H54.5 Z"/><text x="93" y="1169.6" font-family='"Liberation Sans", Arial, sans-serif' font-weight="700" font-size="41" textLength="242" lengthAdjust="spacingAndGlyphs">TradingView</text></g><polygon points="2600.5,1226.9 2593.8,1238.5 2580.2,1238.5 2573.5,1226.9 2580.2,1215.3 2593.8,1215.3" fill="none" stroke="#131722" stroke-width="2.4" stroke-linejoin="round"/><circle cx="2587" cy="1226.9" r="3.7" fill="none" stroke="#131722" stroke-width="2.4"/><path d="M30 212.3 L37.1 205.7 L44.2 212.3" fill="none" stroke="#131722" stroke-width="2.5" stroke-linecap="round" stroke-linejoin="round"/><circle cx="38.4" cy="19.4" r="11.6" fill="#2F9684"/><path d="M31.1 16.2 L43 15.8 L46.2 19.3 L38.9 29.8 L29 19.3 Z" fill="#fff"/><text x="38.6" y="22.4" font-family='"Liberation Sans", Arial, sans-serif' font-size="7.5" font-weight="700" fill="#2F9684" text-anchor="middle">₮</text><circle cx="26.1" cy="31.7" r="14" fill="#fff"/><circle cx="26.1" cy="31.7" r="12" fill="#E88A32"/><text x="26.1" y="37.3" font-family='"Liberation Sans", Arial, sans-serif' font-size="15.5" font-weight="700" fill="#fff" text-anchor="middle" transform="rotate(12 26.1 31.7)">₿</text><circle cx="589.2" cy="26" r="18" fill="#E4EFEC"/><circle cx="589.2" cy="26" r="8" fill="#459B84"/></svg>
<div style="position:absolute;left:0;top:1253px;width:2666px;height:2px;background:#E4E6EB"></div>
</body></html>
